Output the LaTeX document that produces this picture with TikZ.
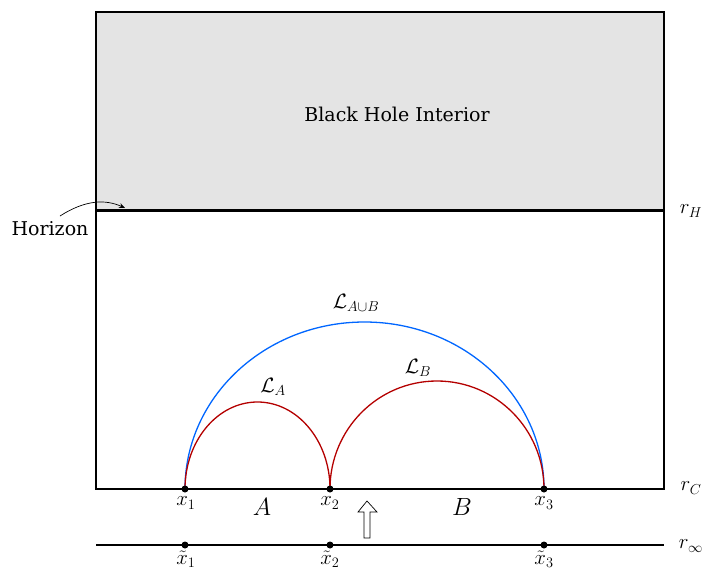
\documentclass[tikz,border=0pt]{standalone}
\usepackage{fontspec}
\usepackage{amsmath,amssymb}
\setmainfont{DejaVu Serif}
\usetikzlibrary{arrows.meta}
\definecolor{myblue}{RGB}{0,102,255}
\definecolor{myred}{RGB}{180,0,0}
\definecolor{mygray}{RGB}{228,228,228}
\tikzset{
  pt/.style={circle,fill=black,inner sep=0pt,minimum size=7pt},
  lab/.style={font=\fontsize{20}{24}\selectfont,inner sep=0pt},
  txt/.style={font=\fontsize{19}{23}\selectfont,inner sep=0pt},
  big/.style={font=\fontsize{24}{28}\selectfont,inner sep=0pt},
}
\begin{document}
\begin{tikzpicture}[x=1pt,y=-1pt]
\useasboundingbox (0,0) rectangle (704,570);
% interior
\fill[mygray] (96,12) rectangle (664,210);
\draw[line width=1.8pt] (96,12) rectangle (664,489);
\draw[line width=3pt] (96,210) -- (664,210);
\node[txt] (bhi) at (397,114) {Black Hole Interior};
% r labels
\node[lab] (rH) at (691,211) {$r_H$};
\node[lab] (rC) at (691,488) {$r_C$};
\node[lab] (rinf) at (691,546) {$r_\infty$};
% bottom line
\coordinate (L1) at (96,545);
\coordinate (L2) at (664,545);
\draw[line width=1.8pt] (L1) -- (L2);
% arcs
\coordinate (c1) at (185,489);
\coordinate (c2) at (330,489);
\draw[myblue,line width=1.3pt] (c1) arc[start angle=180,end angle=0,x radius=179.5,y radius=-167];
\draw[myred,line width=1.3pt] (c1) arc[start angle=180,end angle=0,x radius=72.5,y radius=-87];
\draw[myred,line width=1.3pt] (c2) arc[start angle=180,end angle=0,x radius=107,y radius=-108];
% points
\node[pt] (x1) at (185,489) {};
\node[pt] (x2) at (330,489) {};
\node[pt] (x3) at (544,489) {};
\node[pt] (t1) at (185,545) {};
\node[pt] (t2) at (330,545) {};
\node[pt] (t3) at (544,545) {};
% arc labels
\node[lab] (lab) at (356,303) {$\mathcal{L}_{A\cup B}$};
\node[lab] (la) at (273,387) {$\mathcal{L}_A$};
\node[lab] (lb) at (418,368) {$\mathcal{L}_B$};
% point labels
\node[lab] at (186,503) {$x_1$};
\node[lab] at (330,503) {$x_2$};
\node[lab] at (544,503) {$x_3$};
\node[lab] at (186,559) {$\tilde{x}_1$};
\node[lab] at (330,559) {$\tilde{x}_2$};
\node[lab] at (544,559) {$\tilde{x}_3$};
\node[big] (A) at (262,507) {$A$};
\node[big] (B) at (462,507) {$B$};
% hollow arrow
\draw[line width=0.7pt,fill=white] (364,538) -- (364,512) -- (358,512) -- (367,501) -- (377,512) -- (370,512) -- (370,538) -- cycle;
% horizon
\node[txt] (hz) at (50,229) {Horizon};
\coordinate (hzt) at (125,208);
\draw[-{Stealth[length=6pt,width=5pt]},line width=0.7pt] (60,216) .. controls (85,200) and (105,199) .. (hzt);
\end{tikzpicture}
\end{document}
